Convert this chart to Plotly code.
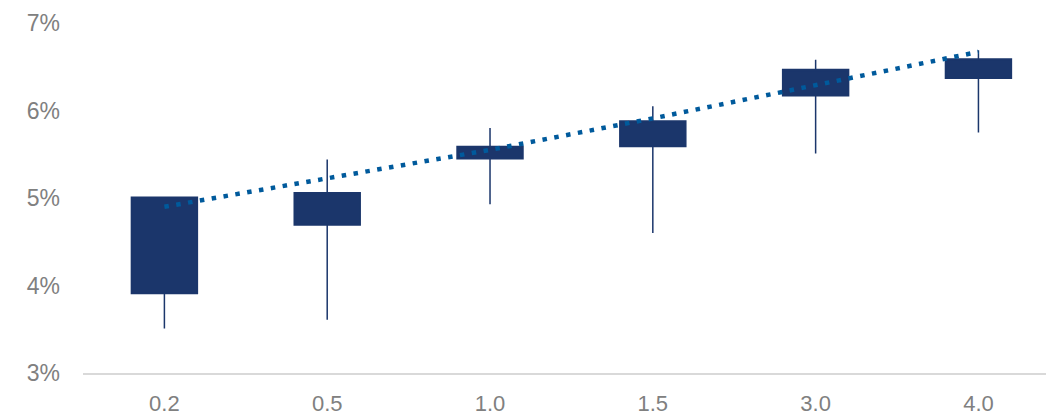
import plotly.graph_objects as go

# --- Data ---
categories = ["0.2", "0.5", "1.0", "1.5", "3.0", "4.0"]
box_low = [3.91, 4.69, 5.45, 5.59, 6.17, 6.37]
box_high = [5.01, 5.06, 5.59, 5.88, 6.47, 6.59]
whisker_low = [3.51, 3.61, 4.93, 4.60, 5.51, 5.75]
whisker_high = [5.01, 5.44, 5.80, 6.05, 6.58, 6.69]
trend = [4.90, 5.22, 5.55, 5.91, 6.29, 6.67]
y_ticks = [3, 4, 5, 6, 7]
y_labels = ["3%", "4%", "5%", "6%", "7%"]

navy = "#1B366B"
dot_blue = "#005A9C"
grey = "#808080"

fig = go.Figure()

# --- Boxes with whiskers ---
fig.add_trace(go.Box(
    x=categories,
    q1=box_low,
    median=box_high,
    q3=box_high,
    lowerfence=whisker_low,
    upperfence=whisker_high,
    width=0.405,
    whiskerwidth=0,
    fillcolor=navy,
    line=dict(color=navy, width=1.5),
    hoverinfo="skip",
    showlegend=False,
))

# --- Dotted trend ---
fig.add_trace(go.Scatter(
    x=categories,
    y=trend,
    mode="lines",
    line=dict(color=dot_blue, width=4.5, dash="4.5px,7.5px"),
    hoverinfo="skip",
    showlegend=False,
))

fig.update_layout(
    width=1046,
    height=418,
    margin=dict(l=83, r=0, t=23, b=45),
    paper_bgcolor="white",
    plot_bgcolor="white",
    font=dict(family="Liberation Sans, Arial, sans-serif", size=22, color=grey),
    xaxis=dict(
        type="category",
        range=[-0.5, 5.415],
        showgrid=False,
        showline=True,
        linecolor="#D9D9D9",
        linewidth=2,
        ticks="",
        ticklabelstandoff=10,
        tickfont=dict(size=22, color=grey),
        zeroline=False,
    ),
    yaxis=dict(
        range=[3, 7],
        tickvals=y_ticks,
        ticktext=y_labels,
        showgrid=False,
        showline=False,
        zeroline=False,
        ticks="",
        ticklabelstandoff=22,
        tickfont=dict(size=23, color=grey),
    ),
)

fig.write_html(
    "out.html",
    config={"displayModeBar": False},
    post_script="document.body.style.margin='0px';",
)
